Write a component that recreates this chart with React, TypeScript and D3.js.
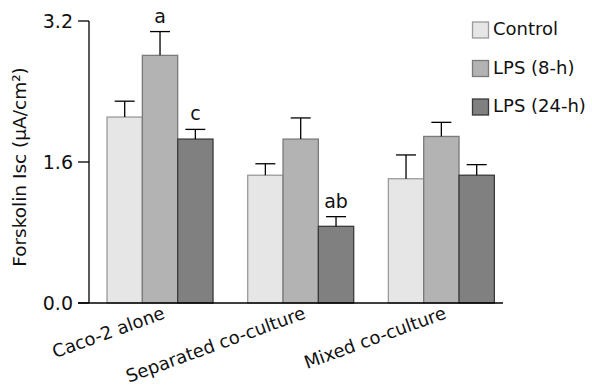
import React from "react";
import * as d3 from "d3";

const categories = ["Caco-2 alone", "Separated co-culture", "Mixed co-culture"];
const seriesNames = ["Control", "LPS (8-h)", "LPS (24-h)"];
const controlValues = [2.11, 1.45, 1.41];
const controlErrors = [0.18, 0.13, 0.27];
const lps8Values = [2.81, 1.86, 1.89];
const lps8Errors = [0.27, 0.24, 0.16];
const lps24Values = [1.86, 0.87, 1.45];
const lps24Errors = [0.11, 0.11, 0.12];
const yTicks = [0, 1.6, 3.2];
// significance letters: [category index, series index, label]
const sigLetters: [number, number, string][] = [
  [0, 1, "a"],
  [0, 2, "c"],
  [1, 2, "ab"],
];

const fills = ["#e6e6e6", "#b3b3b3", "#808080"];
const strokes = ["#9a9a9a", "#7a7a7a", "#3a3a3a"];
const FONT = "'DejaVu Sans', sans-serif";

export default function App() {
  const W = 592;
  const H = 387;
  const axisX = 89;
  const y = d3.scaleLinear().domain([0, 3.2]).range([303, 21]);
  const x0 = d3
    .scaleBand<string>()
    .domain(categories)
    .range([89.7, 511.7])
    .paddingInner(0.2465)
    .paddingOuter(0.1232);
  const x1 = d3
    .scaleBand<string>()
    .domain(seriesNames)
    .range([0, x0.bandwidth()]);

  const values = [controlValues, lps8Values, lps24Values];
  const errors = [controlErrors, lps8Errors, lps24Errors];
  const capW = 20;

  return (
    <svg
      width={W}
      height={H}
      style={{ position: "absolute", left: 0, top: 0, background: "#fff" }}
      fontFamily={FONT}
    >
      {/* bars */}
      {categories.map((c, ci) =>
        seriesNames.map((s, si) => {
          const v = values[si][ci];
          const bx = (x0(c) as number) + (x1(s) as number);
          return (
            <rect
              key={`b-${ci}-${si}`}
              x={bx}
              y={y(v)}
              width={x1.bandwidth()}
              height={y(0) - y(v)}
              fill={fills[si]}
              stroke={strokes[si]}
              strokeWidth={1.3}
            />
          );
        })
      )}
      {/* error bars (upper only) */}
      {categories.map((c, ci) =>
        seriesNames.map((s, si) => {
          const v = values[si][ci];
          const e = errors[si][ci];
          const cx = (x0(c) as number) + (x1(s) as number) + x1.bandwidth() / 2;
          return (
            <g key={`e-${ci}-${si}`} stroke="#000" strokeWidth={1.3}>
              <line x1={cx} x2={cx} y1={y(v)} y2={y(v + e)} />
              <line x1={cx - capW / 2} x2={cx + capW / 2} y1={y(v + e)} y2={y(v + e)} />
            </g>
          );
        })
      )}
      {/* significance letters */}
      {sigLetters.map(([ci, si, lab]) => {
        const c = categories[ci];
        const s = seriesNames[si];
        const cx = (x0(c) as number) + (x1(s) as number) + x1.bandwidth() / 2;
        const top = y(values[si][ci] + errors[si][ci]);
        return (
          <text key={lab + ci} x={cx} y={top - 9} textAnchor="middle" fontSize={19} fill="#111">
            {lab}
          </text>
        );
      })}
      {/* axes */}
      <line x1={axisX} x2={axisX} y1={y(3.2)} y2={y(0)} stroke="#000" strokeWidth={1.3} />
      <line x1={78} x2={503} y1={y(0)} y2={y(0)} stroke="#000" strokeWidth={1.3} />
      {yTicks.map((t) => (
        <g key={t}>
          <line x1={78} x2={axisX} y1={y(t)} y2={y(t)} stroke="#000" strokeWidth={1.3} />
          <text
            x={73}
            y={y(t)}
            dy="0.36em"
            textAnchor="end"
            fontSize={19}
            fill="#111"
          >
            {d3.format(".1f")(t)}
          </text>
        </g>
      ))}
      {/* category labels */}
      {categories.map((c) => {
        const cx = (x0(c) as number) + x0.bandwidth() / 2 + 6;
        return (
          <text
            key={c}
            transform={`translate(${cx},318) rotate(-20)`}
            textAnchor="end"
            fontSize={18}
            fill="#111"
          >
            {c}
          </text>
        );
      })}
      {/* y axis title */}
      <text
        transform="translate(26,167) rotate(-90)"
        textAnchor="middle"
        fontSize={18.5}
        fill="#111"
      >
        Forskolin Isc (µA/cm²)
      </text>
      {/* legend */}
      {seriesNames.map((s, i) => {
        const base = 35 + i * 38.5;
        return (
          <g key={s}>
            <rect
              x={472.5}
              y={base - 13}
              width={16}
              height={16}
              fill={fills[i]}
              stroke={strokes[i]}
              strokeWidth={1.3}
            />
            <text x={493} y={base} fontSize={18} fill="#111">
              {s}
            </text>
          </g>
        );
      })}
    </svg>
  );
}
